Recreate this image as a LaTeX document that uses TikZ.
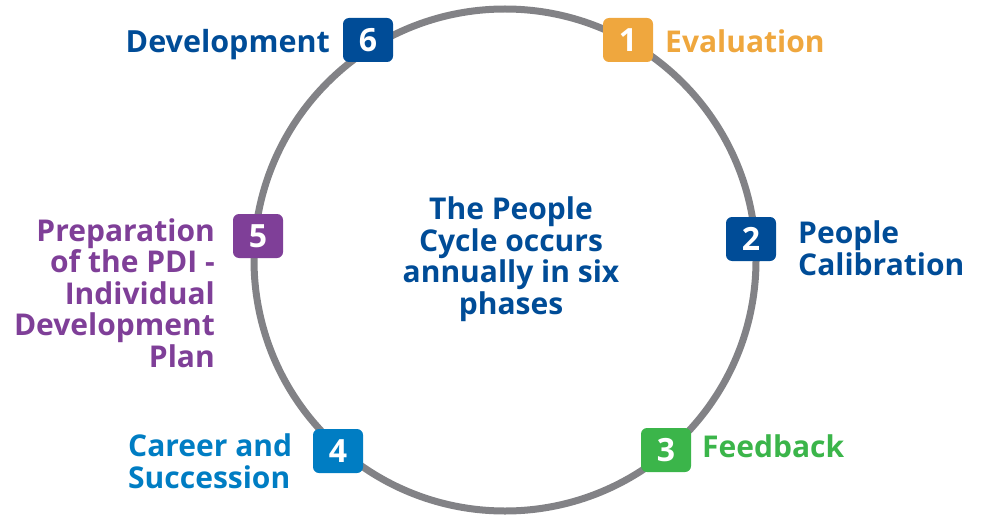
\documentclass[tikz,border=0pt]{standalone}
\usepackage{fontspec}
\setmainfont{Open Sans}
\definecolor{cblue}{RGB}{0,76,151}
\definecolor{corange}{RGB}{239,167,62}
\definecolor{cgreen}{RGB}{59,181,74}
\definecolor{clblue}{RGB}{0,125,195}
\definecolor{cpurple}{RGB}{127,63,152}
\definecolor{ringgray}{RGB}{130,130,134}
\begin{document}
\begin{tikzpicture}[x=1pt,y=-1pt,
  lab/.style={font=\fontsize{30}{31.5}\selectfont\bfseries, inner sep=0pt},
  numbox/.style={rounded corners=6pt, minimum width=50pt, minimum height=44pt, inner sep=0pt, text=white, font=\fontsize{32}{32}\selectfont\bfseries}]
\useasboundingbox (0,0) rectangle (995,516);
\node[circle, draw=ringgray, line width=7pt, minimum size=502pt, inner sep=0pt] (ring) at (505,260) {};
\node[numbox, fill=corange] (b1) at (628,40) {1};
\node[numbox, fill=cblue] (b2) at (751,239) {2};
\node[numbox, fill=cgreen] (b3) at (666,450) {3};
\node[numbox, fill=clblue] (b4) at (338,451) {4};
\node[numbox, fill=cpurple] (b5) at (258,236) {5};
\node[numbox, fill=cblue] (b6) at (368,40) {6};
\node[lab, text=corange, anchor=base west] (l1) at (665,53) {Evaluation};
\node[lab, text=cblue, anchor=base west, align=left] (l2) at (798,275) {People\\Calibration};
\node[lab, text=cgreen, anchor=base west] (l3) at (702,457) {Feedback};
\node[lab, text=clblue, anchor=base west, align=left] (l4) at (128,488) {Career and\\Succession};
\node[lab, text=cpurple, anchor=base east, align=right] (l5) at (215,367) {Preparation\\of the PDI -\\Individual\\Development\\Plan};
\node[lab, text=cblue, anchor=base east, font=\fontsize{30.5}{31.5}\selectfont\bfseries] (l6) at (330,53) {Development};
\node[lab, text=cblue, align=center, anchor=base] (c) at (511,314) {The People\\Cycle occurs\\annually in six\\phases};
\end{tikzpicture}
\end{document}
